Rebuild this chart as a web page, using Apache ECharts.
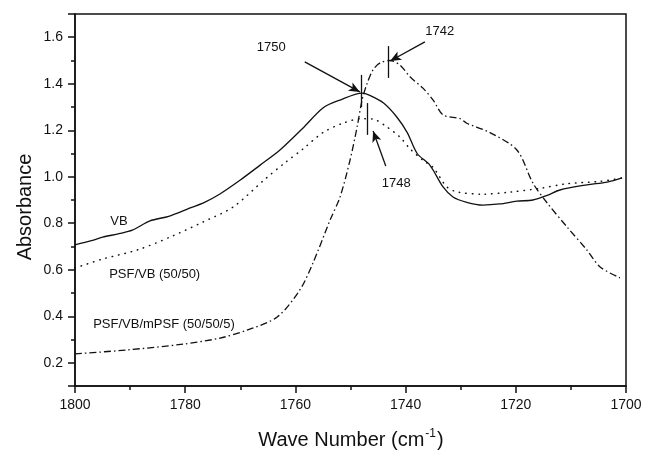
<!DOCTYPE html>
<html><head><meta charset="utf-8">
<script src="https://cdn.jsdelivr.net/npm/echarts@6/dist/echarts.min.js"></script>
<style>html,body{margin:0;padding:0;background:#fff}#c{width:645px;height:453px}</style>
</head><body><div id="c"></div>
<script>
// ---- data (wave number, absorbance) ----
const vbX = [1800,1797,1795,1792,1789.6,1786.4,1783,1779.7,1776.5,1773.7,1770,1766.4,1762.8,1758.6,1755,1751.9,1747.9,1746.5,1744,1741.6,1739.7,1737.9,1735.6,1733.2,1731.4,1728.9,1726,1722.9,1719.8,1716.9,1714.3,1712,1707.1,1703.4,1700.7];
const vbY = [0.707,0.725,0.74,0.755,0.77,0.81,0.83,0.86,0.89,0.926,0.986,1.05,1.115,1.21,1.296,1.33,1.36,1.35,1.317,1.257,1.19,1.10,1.05,0.956,0.913,0.89,0.878,0.883,0.895,0.90,0.92,0.943,0.965,0.977,0.995];

const psfVbX = [1800,1795,1788.7,1782.8,1776.8,1771.3,1765.5,1761.9,1758.6,1755,1751.4,1747.9,1745.9,1743.4,1741,1739.2,1736.8,1735,1732.5,1730.5,1726,1721,1715.6,1710.7,1704.7,1700.7];
const psfVbY = [0.607,0.646,0.685,0.74,0.805,0.87,0.99,1.06,1.12,1.19,1.23,1.25,1.248,1.214,1.17,1.12,1.07,1.04,0.956,0.934,0.925,0.934,0.95,0.97,0.98,0.995];

const mpsfX = [1800,1790.6,1780.4,1773.7,1768.8,1763.3,1759.2,1756.8,1753.7,1751.9,1750.1,1748.8,1747.9,1747,1745.9,1744.6,1742.8,1741,1739.2,1736.8,1735,1733.2,1730.1,1728.9,1724.7,1719.8,1716.9,1714.3,1710.7,1707.1,1704.7,1701.1];
const mpsfY = [0.238,0.255,0.28,0.306,0.34,0.397,0.513,0.63,0.814,0.913,1.07,1.214,1.33,1.40,1.46,1.49,1.50,1.48,1.43,1.38,1.33,1.266,1.25,1.23,1.19,1.115,0.973,0.887,0.784,0.685,0.612,0.565];

const xTicks = [1800,1780,1760,1740,1720,1700];
const seriesNames = ['VB','PSF/VB (50/50)','PSF/VB/mPSF (50/50/5)'];
const seriesLabelAt = [[1793.6,0.81],[1793.8,0.582],[1796.7,0.367]];
const peakLabels = ['1750','1742','1748'];
const peakLabelAt = [[1764.4,1.558],[1733.8,1.623],[1741.7,0.973]];
const arrowFrom = [[1758.3,1.494],[1736.5,1.58],[1743.6,1.046]];
const arrowTo = [[1748.3,1.365],[1742.8,1.498],[1745.9,1.197]];
const peakTickX = [1748.1,1743.2,1747.0];
const peakTickY = [[1.30,1.438],[1.425,1.562],[1.18,1.317]];

const FONT = '"Liberation Sans", Arial, sans-serif';
const INK = '#111';
function zip(a,b){return a.map((v,i)=>[v,b[i]]);}

const chart = echarts.init(document.getElementById('c'), null, {renderer:'canvas'});

const markLines = [];
arrowFrom.forEach((f,i)=>{
  markLines.push([{coord:f, symbol:'none'},{coord:arrowTo[i], symbol:'arrow', symbolSize:[7,11]}]);
});
peakTickX.forEach((x,i)=>{
  markLines.push([{coord:[x,peakTickY[i][0]], symbol:'none'},{coord:[x,peakTickY[i][1]], symbol:'none'}]);
});

chart.setOption({
  animation:false,
  backgroundColor:'#fff',
  grid:{left:75,right:19,top:14,bottom:67,show:true,borderColor:INK,borderWidth:1.5,backgroundColor:'transparent'},
  xAxis:{
    type:'value',min:1700,max:1800,interval:20,inverse:true,
    axisLine:{show:true,onZero:false,lineStyle:{color:INK,width:1.5}},
    axisTick:{show:true,inside:false,length:7,lineStyle:{color:INK,width:1.5}},
    minorTick:{show:true,splitNumber:2,length:4,lineStyle:{color:INK,width:1.5}},
    axisLabel:{color:INK,fontFamily:FONT,fontSize:14,margin:12,formatter:v=>xTicks.includes(v)?String(v):''},
    splitLine:{show:false}
  },
  yAxis:{
    type:'value',min:0.1,max:1.7,splitNumber:8,
    axisLine:{show:true,onZero:false,lineStyle:{color:INK,width:1.5}},
    axisTick:{show:true,inside:false,length:7,lineStyle:{color:INK,width:1.5}},
    minorTick:{show:true,splitNumber:2,length:4,lineStyle:{color:INK,width:1.5}},
    axisLabel:{color:INK,fontFamily:FONT,fontSize:14,margin:12,showMinLabel:false,showMaxLabel:false,formatter:v=>v.toFixed(1)},
    splitLine:{show:false}
  },
  series:[
    {name:seriesNames[0],type:'line',data:zip(vbX,vbY),showSymbol:false,smooth:0.3,
     lineStyle:{color:INK,width:1.3,type:'solid'}},
    {name:seriesNames[1],type:'line',data:zip(psfVbX,psfVbY),showSymbol:false,smooth:0.3,
     lineStyle:{color:INK,width:1.5,type:[0.5,6],cap:'round'}},
    {name:seriesNames[2],type:'line',data:zip(mpsfX,mpsfY),showSymbol:false,smooth:0.3,
     lineStyle:{color:INK,width:1.3,type:[7,3,1.5,3]}},
    {name:'annot',type:'line',data:[],silent:true,
     markLine:{silent:true,animation:false,label:{show:false},symbol:['none','none'],
       lineStyle:{color:INK,width:1.3,type:'solid'},emphasis:{disabled:true},data:markLines}}
  ]
});

// texts placed via axis scales
const g = [];
seriesNames.forEach((t,i)=>{
  const p = chart.convertToPixel({gridIndex:0}, seriesLabelAt[i]);
  g.push({type:'text',x:p[0],y:p[1],style:{text:t,fill:INK,font:'13px '+FONT,align:'left',verticalAlign:'middle'}});
});
peakLabels.forEach((t,i)=>{
  const p = chart.convertToPixel({gridIndex:0}, peakLabelAt[i]);
  g.push({type:'text',x:p[0],y:p[1],style:{text:t,fill:INK,font:'13px '+FONT,align:'center',verticalAlign:'middle'}});
});
g.push({type:'text',x:25,y:207,rotation:Math.PI/2,style:{text:'Absorbance',fill:INK,font:'20px '+FONT,align:'center',verticalAlign:'middle'}});
g.push({type:'text',x:351,y:440,style:{
  text:'{a|Wave Number (cm}{b|-1}{a|)}',align:'center',verticalAlign:'middle',
  rich:{a:{fill:INK,fontFamily:FONT,fontSize:20,lineHeight:24},
        b:{fill:INK,fontFamily:FONT,fontSize:12,lineHeight:24,verticalAlign:'top',padding:[0,1,0,1]}}}});
chart.setOption({graphic:g});
</script>
</body></html>
